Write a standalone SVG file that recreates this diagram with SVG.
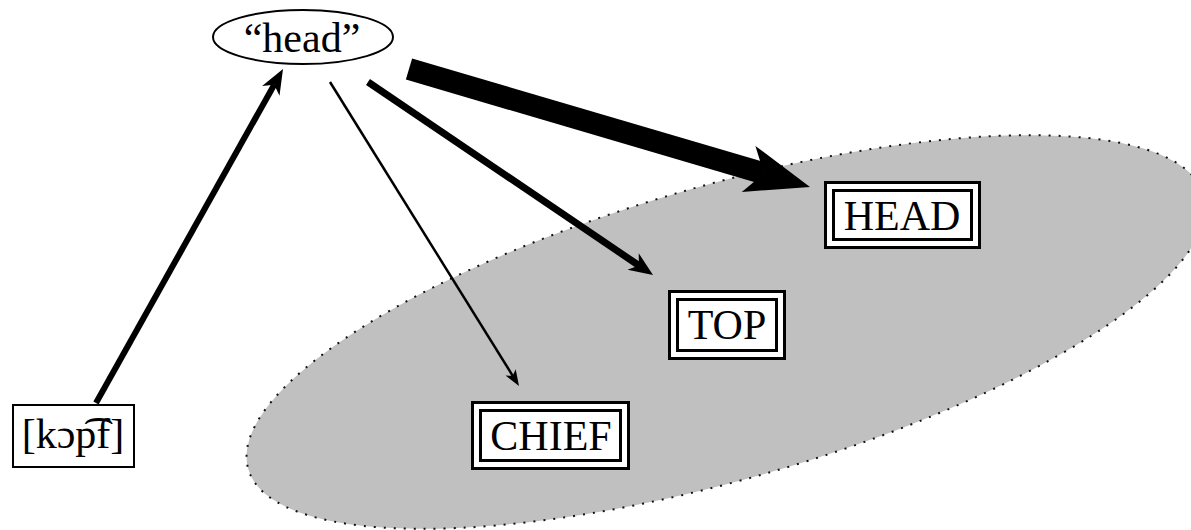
<svg xmlns="http://www.w3.org/2000/svg" width="1191" height="530" viewBox="0 0 1191 530">
  <style>
    .lbl { font-family: "Liberation Serif", "Times New Roman", serif; font-size: 42px; fill: #000; text-anchor: middle; }
    .ipa { font-family: "Liberation Serif", "DejaVu Serif", serif; }
    .outer { fill: #fff; stroke: #000; stroke-width: 3; }
    .inner { fill: none; stroke: #000; stroke-width: 3; }
    .plain { fill: #fff; stroke: #000; stroke-width: 2; }
    .shaft { stroke: #000; fill: none; stroke-linecap: butt; }
    .head { fill: #000; stroke: none; }
    .field { fill: #c0c0c0; stroke: #111; stroke-width: 2; stroke-dasharray: 2 8; }
  </style>

  <!-- shaded semantic field -->
  <g id="field">
    <ellipse class="field" cx="726" cy="332" rx="497" ry="147" transform="rotate(-16 726 332)"/>
  </g>

  <g id="node-head">
    <ellipse class="plain" cx="303" cy="37" rx="90" ry="27"/>
    <text class="lbl" x="302" y="52">“head”</text>
  </g>

  <g id="node-kopf">
    <rect class="plain" x="13" y="405" width="121" height="62"/>
    <text class="lbl ipa" x="73" y="448">[kɔp͡f]</text>
  </g>

  <g id="node-HEAD">
    <rect class="outer" x="825.5" y="182.5" width="154" height="65"/>
    <rect class="inner" x="833.5" y="190.5" width="138" height="49"/>
    <text class="lbl" x="902" y="230">HEAD</text>
  </g>

  <g id="node-TOP">
    <rect class="outer" x="669.5" y="291.5" width="115" height="67"/>
    <rect class="inner" x="677.5" y="299.5" width="99" height="51"/>
    <text class="lbl" x="727" y="339">TOP</text>
  </g>

  <g id="node-CHIEF">
    <rect class="outer" x="472.5" y="402.5" width="156" height="66"/>
    <rect class="inner" x="480.5" y="410.5" width="140" height="50"/>
    <text class="lbl" x="551" y="450">CHIEF</text>
  </g>

  <g id="connectors">
    <!-- [kɔp͡f] to "head" -->
    <line class="shaft" x1="96" y1="403" x2="274.2" y2="84.7" stroke-width="6"/>
    <path class="head" d="M283,69 L279.5,95.7 L274.2,84.7 L262.1,85.9 Z"/>
    <!-- "head" to CHIEF -->
    <line class="shaft" x1="330" y1="82" x2="512.7" y2="375.8" stroke-width="2.5"/>
    <path class="head" d="M519,386 L505.5,375.6 L512.7,375.8 L515.7,369.2 Z"/>
    <!-- "head" to TOP -->
    <line class="shaft" x1="368" y1="82" x2="638.9" y2="265.5" stroke-width="7"/>
    <path class="head" d="M653,275 L627.5,269.8 L638.9,265.5 L638.7,253.2 Z"/>
    <!-- "head" to HEAD -->
    <line class="shaft" x1="409" y1="69" x2="764" y2="173.4" stroke-width="22"/>
    <path class="head" d="M810,187 L741.8,191.9 L764,173.4 L755.4,145.9 Z"/>
  </g>
</svg>
